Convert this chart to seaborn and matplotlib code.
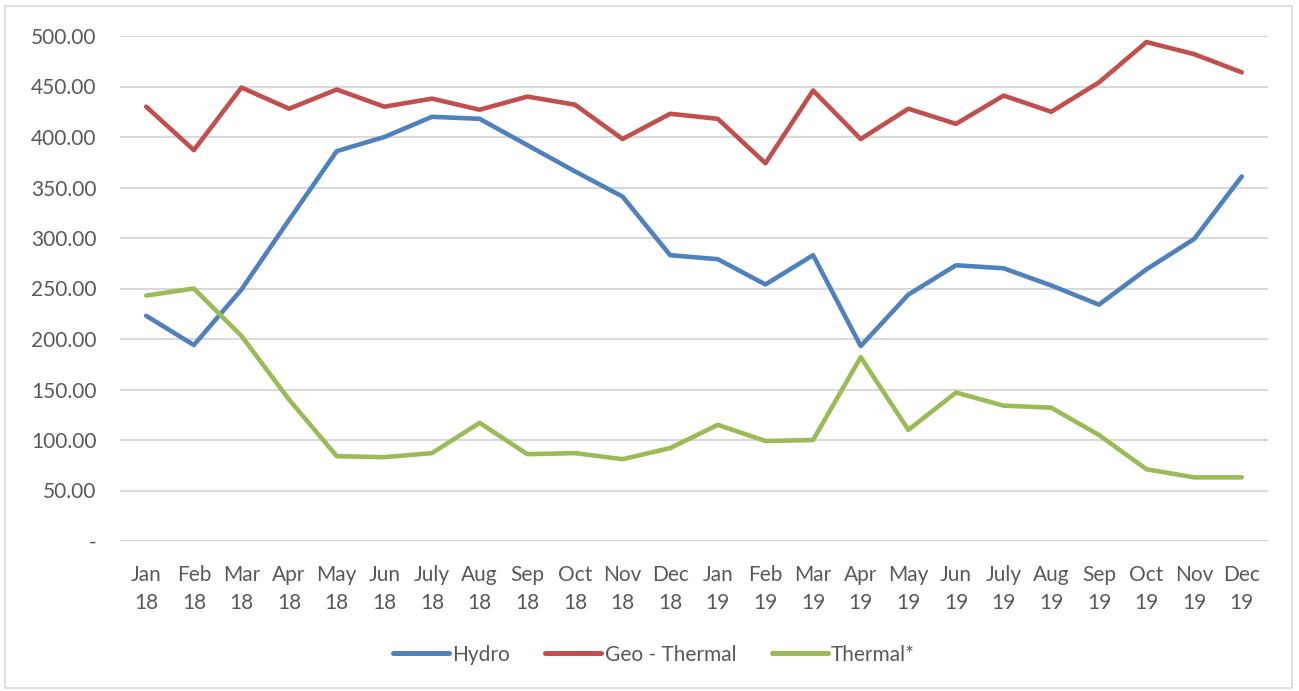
import numpy as np
import pandas as pd
import matplotlib
matplotlib.use("Agg")
import matplotlib.pyplot as plt
from matplotlib.patches import Rectangle
import seaborn as sns

months = ["Jan", "Feb", "Mar", "Apr", "May", "Jun", "July", "Aug", "Sep", "Oct", "Nov", "Dec"]
years = ["18", "19"]
tick_labels = [f"{m}\n{y}" for y in years for m in months]

hydro = [223, 194, 249, 318, 386, 400, 420, 418, 392, 366, 341, 283,
         279, 254, 283, 193, 244, 273, 270, 253, 234, 269, 299, 361]
geo_thermal = [430, 387, 449, 428, 447, 430, 438, 427, 440, 432, 398, 423,
               418, 374, 446, 398, 428, 413, 441, 425, 454, 494, 482, 464]
thermal = [243, 250, 203, 140, 84, 83, 87, 117, 86, 87, 81, 92,
           115, 99, 100, 182, 110, 147, 134, 132, 105, 71, 63, 63]

series_names = ["Hydro", "Geo - Thermal", "Thermal*"]
colors = ["#4F81BD", "#C0504D", "#9BBB59"]

idx = np.arange(len(tick_labels))
df = pd.concat([
    pd.DataFrame({"x": idx, "value": vals, "series": name})
    for name, vals in zip(series_names, [hydro, geo_thermal, thermal])
], ignore_index=True)

sns.set_style("white")
plt.rcParams["font.family"] = ["Lato", "DejaVu Sans"]

W, H = 1299, 691
fig = plt.figure(figsize=(W / 100, H / 100), dpi=100)
ax = fig.add_axes([120 / W, 1 - 541 / H, (1268 - 120) / W, (541 - 36) / H])

sns.lineplot(data=df, x="x", y="value", hue="series", palette=colors,
             hue_order=series_names, linewidth=3.3, sort=False, ax=ax,
             solid_capstyle="round", solid_joinstyle="round")

ax.set_xlim(-0.55, 23.55)
ax.set_ylim(0, 500)
ax.set_yticks(np.arange(0, 501, 50))
ax.set_yticklabels(["-"] + [f"{v:.2f}" for v in np.arange(50, 501, 50)])
ax.set_xticks(idx)
ax.set_xticklabels(tick_labels, linespacing=1.55)
ax.tick_params(axis="both", length=0, labelsize=15, labelcolor="#595959")
ax.tick_params(axis="x", pad=17)
ax.tick_params(axis="y", pad=17)
ax.yaxis.grid(True, color="#D9D9D9", linewidth=1.5)
ax.set_axisbelow(True)
for s in ax.spines.values():
    s.set_visible(False)
ax.set_xlabel("")
ax.set_ylabel("")

leg = ax.legend(loc="center", bbox_to_anchor=(0.465, -0.225), ncol=3, frameon=False,
                fontsize=15, handlelength=2.7, handletextpad=0.15, columnspacing=1.7)
for t in leg.get_texts():
    t.set_color("#595959")
for l in leg.get_lines():
    l.set_linewidth(3.6)
    l.set_solid_capstyle("round")

fig.patches.append(Rectangle((5 / W, 3 / H), (1292 - 5) / W, (685 - 3) / H,
                             transform=fig.transFigure, fill=False,
                             edgecolor="#D9D9D9", linewidth=1.2))

fig.savefig("out.png", dpi=100)
